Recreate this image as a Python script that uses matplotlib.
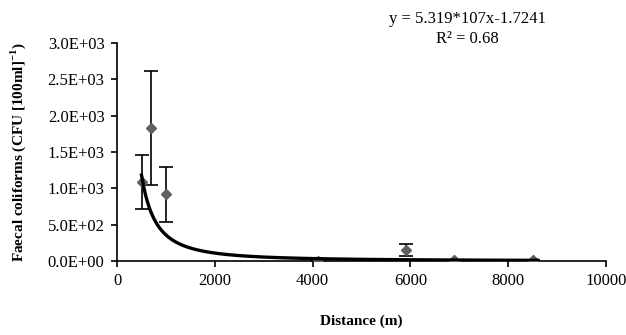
import numpy as np
import matplotlib
matplotlib.use("Agg")
import matplotlib.pyplot as plt

plt.rcParams['font.family'] = ['Liberation Serif', 'DejaVu Serif']

# Measured data (distance in m, faecal coliforms CFU/100ml)
distance = [500, 700, 1000, 4100, 5900, 6900, 8500]
coliforms = [1090, 1830, 920, 5, 150, 10, 10]
err_low = [370, 780, 380, 0, 80, 0, 0]
err_high = [370, 780, 370, 0, 80, 0, 0]

# Power fit y = a * x^b
fit_a = 5.319e7
fit_b = -1.7241
fit_x = np.linspace(500, 8600, 400)

fig = plt.figure(figsize=(6.26, 3.35), dpi=100)
ax = fig.add_axes([0.187, 0.221, 0.781, 0.651])

ax.errorbar(distance, coliforms, yerr=[err_low, err_high], fmt='none',
            ecolor='black', elinewidth=1.2, capsize=5, capthick=1.2, zorder=2)
ax.plot(distance, coliforms, linestyle='none', marker='D', markersize=5.5,
        color='#606060', zorder=3)
ax.plot(fit_x, fit_a * fit_x ** fit_b, color='black', linewidth=2.4, zorder=4)

ax.set_xlim(0, 10000)
ax.set_ylim(0, 3000)
ax.set_xticks(range(0, 10001, 2000))
yticks = np.arange(0, 3001, 500)
ax.set_yticks(yticks)
ax.set_yticklabels([f"{v:.1E}" for v in yticks])
ax.tick_params(axis='both', direction='out', length=4, width=1.2, labelsize=12,
               color='black', pad=5)
for side in ['top', 'right']:
    ax.spines[side].set_visible(False)
for side in ['left', 'bottom']:
    ax.spines[side].set_linewidth(1.2)

ax.set_xlabel("Distance (m)", fontsize=11, fontweight='bold', labelpad=18)
ax.set_ylabel("Faecal coliforms (CFU [100ml]$^{\\mathregular{-1}}$)", fontsize=11,
              fontweight='bold', labelpad=14)

fig.text(0.746, 0.943, "y = 5.319*107x-1.7241", ha='center', va='center', fontsize=12)
fig.text(0.746, 0.884, "R² = 0.68", ha='center', va='center', fontsize=12)

fig.savefig("out.png", dpi=100)
